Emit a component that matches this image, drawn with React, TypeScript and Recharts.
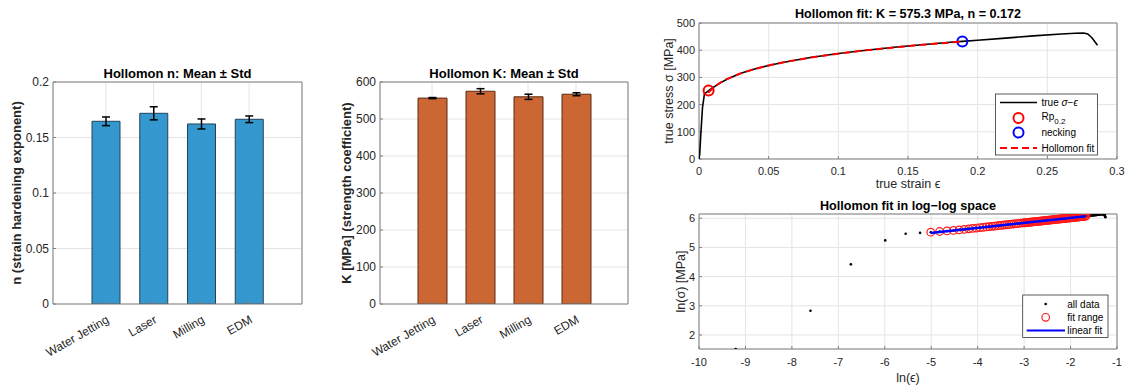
import React from 'react';
import { ComposedChart, Bar, ErrorBar, Scatter, XAxis, YAxis, CartesianGrid } from 'recharts';

// ---- bar panels ----
const methods = ['Water Jetting', 'Laser', 'Milling', 'EDM'];
const nMean = [0.1646, 0.1718, 0.1622, 0.1664];
const nStd = [0.0039, 0.0059, 0.0045, 0.003];
const kMean = [556.5, 575, 560, 567];
const kStd = [1.5, 7, 7, 4];
const nTicks = [0, 0.05, 0.1, 0.15, 0.2];
const kTicks = [0, 100, 200, 300, 400, 500, 600];

// ---- true stress-strain ----
const trueStrain = [0, 0.0001, 0.0005, 0.0012, 0.0025, 0.0039, 0.0053, 0.0067, 0.0095, 0.0123, 0.0151, 0.02, 0.03, 0.04, 0.05, 0.06, 0.08, 0.1, 0.12, 0.14, 0.16, 0.18, 0.189, 0.2, 0.22, 0.24, 0.26, 0.27, 0.276, 0.279, 0.282, 0.286];
const trueStress = [0, 4.5, 17, 83, 189, 239, 245, 250, 261, 270, 279, 293, 315, 331, 344, 355, 373, 388, 400, 411, 420, 429, 432.5, 436.5, 444.5, 452.5, 459.5, 462.5, 463.5, 460, 446, 418];
const fitStrain = [0.0067, 0.008, 0.01, 0.013, 0.016, 0.02, 0.025, 0.03, 0.04, 0.05, 0.06, 0.07, 0.08, 0.1, 0.12, 0.14, 0.16, 0.18, 0.189];
const fitStress = [243, 251, 261, 273, 283, 294, 305, 315, 331, 344, 355, 364, 373, 387, 400, 410, 420, 428, 432];
const rpPoint = [{ x: 0.0069, y: 252 }];
const neckPoint = [{ x: 0.189, y: 432 }];
const strainTicks = [0, 0.05, 0.1, 0.15, 0.2, 0.25, 0.3];
const stressTicks = [0, 100, 200, 300, 400, 500];

// ---- log-log ----
const earlyLnEps = [-9.21, -7.6, -6.73, -5.99, -5.55, -5.24];
const earlyLnSig = [1.52, 2.83, 4.42, 5.24, 5.47, 5.5];
const fitLnEps = [-5.01, -4.82, -4.66, -4.52, -4.4, -4.29, -4.19, -4.11, -4.03, -3.95, -3.88, -3.81, -3.75, -3.69, -3.63, -3.57, -3.52, -3.47, -3.42, -3.37, -3.32, -3.27, -3.22, -3.17, -3.12, -3.07, -3.02,
  -2.995, -2.97, -2.945, -2.92, -2.895, -2.87, -2.845, -2.82, -2.795, -2.77, -2.745, -2.72, -2.695, -2.67, -2.645, -2.62, -2.595, -2.57, -2.545, -2.52, -2.495, -2.47, -2.445, -2.42, -2.395, -2.37, -2.345, -2.32, -2.295, -2.27, -2.245, -2.22, -2.195, -2.17, -2.145, -2.12, -2.095, -2.07, -2.045, -2.02, -1.995, -1.97, -1.945, -1.92, -1.895, -1.87, -1.845, -1.82, -1.795, -1.77, -1.745, -1.72, -1.695, -1.67];
const fitLnSig = [5.521, 5.545, 5.565, 5.581, 5.6, 5.618, 5.636, 5.65, 5.664, 5.678, 5.69, 5.702, 5.712, 5.722, 5.733, 5.743, 5.752, 5.76, 5.769, 5.777, 5.786, 5.795, 5.803, 5.812, 5.82, 5.829, 5.838,
  5.842, 5.846, 5.85, 5.855, 5.859, 5.863, 5.868, 5.872, 5.876, 5.881, 5.885, 5.889, 5.893, 5.898, 5.902, 5.906, 5.911, 5.915, 5.919, 5.924, 5.928, 5.932, 5.936, 5.941, 5.945, 5.949, 5.954, 5.958, 5.962, 5.967, 5.971, 5.975, 5.979, 5.984, 5.988, 5.992, 5.997, 6.001, 6.005, 6.01, 6.014, 6.018, 6.022, 6.027, 6.031, 6.035, 6.04, 6.044, 6.048, 6.053, 6.057, 6.061, 6.066, 6.07];
const tailLnEps = [-1.65, -1.63, -1.61, -1.59, -1.57, -1.55, -1.53, -1.51, -1.49, -1.47, -1.45, -1.43, -1.41, -1.39, -1.37, -1.35, -1.33, -1.31, -1.3, -1.29, -1.28, -1.275, -1.27, -1.265, -1.26, -1.255, -1.25];
const tailLnSig = [6.073, 6.077, 6.08, 6.083, 6.087, 6.09, 6.094, 6.097, 6.101, 6.104, 6.108, 6.114, 6.117, 6.121, 6.124, 6.129, 6.132, 6.136, 6.137, 6.139, 6.137, 6.131, 6.118, 6.1, 6.082, 6.06, 6.035];
const linFitLnEps = [-5.01, -1.67];
const linFitLnSig = [5.493, 6.068];
const lnEpsTicks = [-10, -9, -8, -7, -6, -5, -4, -3, -2, -1];
const lnSigTicks = [2, 3, 4, 5, 6];

const nData = methods.map((m, i) => ({ name: m, mean: nMean[i], std: nStd[i] }));
const kData = methods.map((m, i) => ({ name: m, mean: kMean[i], std: kStd[i] }));
const zip = (xs: number[], ys: number[]) => xs.map((x, i) => ({ x, y: ys[i] }));
const trueData = zip(trueStrain, trueStress);
const fitData = zip(fitStrain, fitStress);
const allLog = [...zip(earlyLnEps, earlyLnSig), ...zip(fitLnEps, fitLnSig), ...zip(tailLnEps, tailLnSig)];
const fitLog = zip(fitLnEps, fitLnSig);
const linLog = zip(linFitLnEps, linFitLnSig);

const AX = '#808080';
const TXT = '#262626';
const GRID = '#e4e4e4';
const FONT = '"Liberation Sans", Arial, Helvetica, sans-serif';

function RotTick(props: any) {
  const { x, y, payload } = props;
  const tx = x + 4;
  const ty = y + 18;
  return (
    <text x={tx} y={ty} textAnchor="end" fontSize={12} fill={TXT} transform={`rotate(-30 ${tx} ${ty})`}>
      {payload.value}
    </text>
  );
}

function BarPanel({ data, ticks, domain, color, edge, ylabel, yw, width, right, pad, barSize }: any) {
  return (
    <ComposedChart width={width} height={328} data={data} margin={{ top: 21, right, left: 0, bottom: 0 }}>
      <CartesianGrid stroke={GRID} />
      <XAxis dataKey="name" height={84} padding={{ left: pad, right: pad }} tickSize={-3} tickMargin={3}
        stroke={AX} tick={<RotTick />} interval={0} />
      <XAxis xAxisId="top" orientation="top" dataKey="name" height={1} padding={{ left: pad, right: pad }}
        tickSize={-3} tick={false} stroke={AX} interval={0} />
      <YAxis domain={domain} ticks={ticks} width={yw} tickSize={-3} tickMargin={7} stroke={AX}
        tick={{ fontSize: 12, fill: TXT }} allowDataOverflow
        label={{ value: ylabel, angle: -90, position: 'insideLeft', offset: 16.7, style: { textAnchor: 'middle' }, fontSize: 13, fontWeight: 'bold', fill: TXT }} />
      <YAxis yAxisId="right" orientation="right" domain={domain} ticks={ticks} width={1} tickSize={-3}
        tick={false} stroke={AX} allowDataOverflow />
      <Bar dataKey="mean" fill={color} stroke={edge} strokeWidth={1} barSize={barSize} isAnimationActive={false}>
        <ErrorBar dataKey="std" width={4} stroke="#000" strokeWidth={1.5} direction="y" isAnimationActive={false} />
      </Bar>
    </ComposedChart>
  );
}

export default function App() {
  return (
    <div style={{ position: 'absolute', left: 0, top: 0, width: 1125, height: 388, background: '#fff', fontFamily: FONT }}>
      <div style={{ position: 'absolute', left: 0, top: 60 }}>
        <BarPanel data={nData} ticks={nTicks} domain={[0, 0.2]} color="#3498cf" edge="#23425a"
          ylabel="n (strain hardening exponent)" yw={53} width={320} right={17} pad={29} barSize={28} />
      </div>
      <div style={{ position: 'absolute', left: 330, top: 60 }}>
        <BarPanel data={kData} ticks={kTicks} domain={[0, 600]} color="#cc6633" edge="#5c2b13"
          ylabel="K [MPa] (strength coefficient)" yw={50} width={330} right={31} pad={28} barSize={29} />
      </div>

      <div style={{ position: 'absolute', left: 640, top: 0 }}>
        <ComposedChart width={485} height={200} margin={{ top: 22, right: 7, left: 0, bottom: 0 }}>
          <CartesianGrid stroke={GRID} />
          <XAxis type="number" dataKey="x" domain={[0, 0.3]} ticks={strainTicks} height={41} tickSize={-3} tickMargin={11}
            stroke={AX} tick={{ fontSize: 11, fill: TXT }} allowDataOverflow
            label={{ value: 'true strain ϵ', position: 'insideBottom', offset: 12, fontSize: 12.5, fill: TXT }} />
          <XAxis xAxisId="top" orientation="top" type="number" domain={[0, 0.3]} ticks={strainTicks} height={1}
            tickSize={-3} tick={false} stroke={AX} allowDataOverflow />
          <YAxis type="number" dataKey="y" domain={[0, 500]} ticks={stressTicks} width={59} tickSize={-3} tickMargin={7}
            stroke={AX} tick={{ fontSize: 11, fill: TXT }} allowDataOverflow
            label={{ value: 'true stress σ [MPa]', angle: -90, position: 'insideLeft', offset: 29, style: { textAnchor: 'middle' }, fontSize: 12.5, fill: TXT }} />
          <YAxis yAxisId="right" orientation="right" domain={[0, 500]} ticks={stressTicks} width={1} tickSize={-3}
            tick={false} stroke={AX} allowDataOverflow />
          <Scatter data={trueData} isAnimationActive={false} line={{ stroke: '#000', strokeWidth: 1.6 }} shape={() => <g />} />
          <Scatter data={rpPoint} isAnimationActive={false}
            shape={(p: any) => <circle cx={p.cx} cy={p.cy} r={5} fill="none" stroke="#ff0000" strokeWidth={2} />} />
          <Scatter data={neckPoint} isAnimationActive={false}
            shape={(p: any) => <circle cx={p.cx} cy={p.cy} r={5} fill="none" stroke="#0000ff" strokeWidth={2} />} />
          <Scatter data={fitData} isAnimationActive={false}
            line={{ stroke: '#ff0000', strokeWidth: 2, strokeDasharray: '7 4' }} shape={() => <g />} />
        </ComposedChart>
      </div>

      <div style={{ position: 'absolute', left: 640, top: 190 }}>
        <ComposedChart width={485} height={198} margin={{ top: 23, right: 7, left: 0, bottom: 0 }}>
          <CartesianGrid stroke={GRID} />
          <XAxis type="number" dataKey="x" domain={[-10, -1]} ticks={lnEpsTicks} height={39} tickSize={-3} tickMargin={12}
            stroke={AX} tick={{ fontSize: 11, fill: TXT }} allowDataOverflow
            label={{ value: 'ln(ϵ)', position: 'insideBottom', offset: 6, fontSize: 12.5, fill: TXT }} />
          <XAxis xAxisId="top" orientation="top" type="number" domain={[-10, -1]} ticks={lnEpsTicks} height={1}
            tickSize={-3} tick={false} stroke={AX} allowDataOverflow />
          <YAxis type="number" dataKey="y" domain={[1.52, 6.145]} ticks={lnSigTicks} width={59} tickSize={-3} tickMargin={7}
            stroke={AX} tick={{ fontSize: 11, fill: TXT }} allowDataOverflow
            label={{ value: 'ln(σ) [MPa]', angle: -90, position: 'insideLeft', offset: 41, style: { textAnchor: 'middle' }, fontSize: 12.5, fill: TXT }} />
          <YAxis yAxisId="right" orientation="right" domain={[1.52, 6.145]} ticks={lnSigTicks} width={1} tickSize={-3}
            tick={false} stroke={AX} allowDataOverflow />
          <Scatter data={allLog} isAnimationActive={false}
            shape={(p: any) => <circle cx={p.cx} cy={p.cy} r={1.3} fill="#000" />} />
          <Scatter data={fitLog} isAnimationActive={false}
            shape={(p: any) => <circle cx={p.cx} cy={p.cy} r={3.8} fill="none" stroke="#ff1a1a" strokeWidth={1.2} />} />
          <Scatter data={linLog} isAnimationActive={false} line={{ stroke: '#0000ff', strokeWidth: 2.5 }} shape={() => <g />} />
        </ComposedChart>
      </div>

      <svg width={1125} height={388} style={{ position: 'absolute', left: 0, top: 0, pointerEvents: 'none' }} fontFamily={FONT}>
        <text x={177.5} y={78} textAnchor="middle" fontSize={13} fontWeight="bold" fill="#000">Hollomon n: Mean ± Std</text>
        <text x={504} y={78} textAnchor="middle" fontSize={13} fontWeight="bold" fill="#000">Hollomon K: Mean ± Std</text>
        <text x={908} y={18} textAnchor="middle" fontSize={12.6} fontWeight="bold" fill="#000">Hollomon fit: K = 575.3 MPa, n = 0.172</text>
        <text x={908} y={209.5} textAnchor="middle" fontSize={12.6} fontWeight="bold" fill="#000">Hollomon fit in log−log space</text>

        {/* legend: stress-strain */}
        <rect x={995.5} y={94} width={102} height={61} fill="#fff" stroke="#333" strokeWidth={0.8} />
        <line x1={1000} y1={102.5} x2={1037} y2={102.5} stroke="#000" strokeWidth={1.6} />
        <text x={1041.5} y={106} fontSize={10} fill="#000">true <tspan fontStyle="italic">σ</tspan>−<tspan fontStyle="italic">ϵ</tspan></text>
        <circle cx={1018.5} cy={118} r={5} fill="none" stroke="#ff0000" strokeWidth={2} />
        <text x={1041.5} y={120} fontSize={10} fill="#000">Rp<tspan dy={4} fontSize={8}>0.2</tspan></text>
        <circle cx={1018.5} cy={132.5} r={5} fill="none" stroke="#0000ff" strokeWidth={2} />
        <text x={1041.5} y={136} fontSize={10} fill="#000">necking</text>
        <line x1={1000} y1={148} x2={1037} y2={148} stroke="#ff0000" strokeWidth={2} strokeDasharray="7 4" />
        <text x={1041.5} y={151.5} fontSize={10} fill="#000">Hollomon fit</text>

        {/* legend: log-log */}
        <rect x={1022.7} y={295} width={85.3} height={42.5} fill="#fff" stroke="#333" strokeWidth={0.8} />
        <circle cx={1045.7} cy={304} r={1.3} fill="#000" />
        <text x={1067.3} y={307.5} fontSize={10} fill="#000">all data</text>
        <circle cx={1045.7} cy={317.3} r={3.8} fill="none" stroke="#ff1a1a" strokeWidth={1.2} />
        <text x={1067.3} y={320.8} fontSize={10} fill="#000">fit range</text>
        <line x1={1026.7} y1={330.5} x2={1065} y2={330.5} stroke="#0000ff" strokeWidth={2} />
        <text x={1067.3} y={334} fontSize={10} fill="#000">linear fit</text>
      </svg>
    </div>
  );
}
